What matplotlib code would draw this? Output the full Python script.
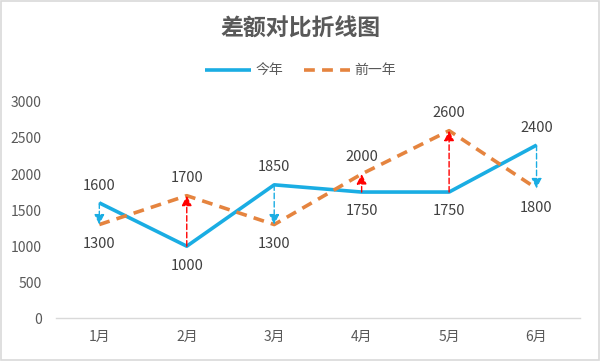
import matplotlib.pyplot as plt
from matplotlib.patches import Rectangle

plt.rcParams['font.family'] = ['Noto Sans CJK SC', 'DejaVu Sans']

# data
months = ['1月', '2月', '3月', '4月', '5月', '6月']
this_year = [1600, 1000, 1850, 1750, 1750, 2400]
last_year = [1300, 1700, 1300, 2000, 2600, 1800]
yticks = [0, 500, 1000, 1500, 2000, 2500, 3000]

blue = '#1AADE3'
orange = '#E5843F'
grey = '#595959'

fig = plt.figure(figsize=(6.01, 3.61), dpi=100)
fig.patches.append(Rectangle((0.002, 0.003), 0.995, 0.993, transform=fig.transFigure,
                             fill=False, edgecolor='#D9D9D9', linewidth=1.2))
ax = fig.add_axes([0.0925, 0.118, 0.873, 0.6])

x = list(range(len(months)))
ax.plot(x, this_year, color=blue, lw=2.6, label='今年', solid_capstyle='butt', zorder=3)
ax.plot(x, last_year, color=orange, lw=2.6, ls=(0, (3, 2)), label='前一年', zorder=3)

# difference arrows
for i in x:
    a, b = this_year[i], last_year[i]
    c = 'red' if b > a else blue
    ax.annotate('', xy=(i, b), xytext=(i, a),
                arrowprops=dict(arrowstyle='-|>,head_length=0.6,head_width=0.3',
                                color=c, lw=1, ls=(0, (4, 2)), shrinkA=0, shrinkB=0),
                zorder=4)

# data labels: larger value above, smaller below
for i in x:
    a, b = this_year[i], last_year[i]
    for v, up in ((a, a >= b), (b, b > a)):
        ax.annotate(str(v), xy=(i, v), xytext=(0, 12.5 if up else -14),
                    textcoords='offset points', ha='center',
                    va='center', fontsize=10.5, color='#404040')

ax.set_xlim(-0.5, 5.5)
ax.set_ylim(0, 3000)
ax.set_xticks(x)
ax.set_xticklabels(months)
ax.set_yticks(yticks)
ax.tick_params(length=0, colors=grey, labelsize=10)
ax.tick_params(axis='x', pad=8)
ax.tick_params(axis='y', pad=10)
for s in ['top', 'right', 'left']:
    ax.spines[s].set_visible(False)
ax.spines['bottom'].set_color('#D9D9D9')
ax.spines['bottom'].set_linewidth(1)

fig.text(0.5, 0.92, '差额对比折线图', ha='center', va='center', fontsize=16.5,
         fontweight='bold', color=grey)
fig.legend(loc='center', bbox_to_anchor=(0.5, 0.805), ncol=2, frameon=False,
           fontsize=10, labelcolor=grey, handlelength=3.3, handletextpad=0.3,
           columnspacing=1.5)

fig.savefig('out.png', dpi=100)
